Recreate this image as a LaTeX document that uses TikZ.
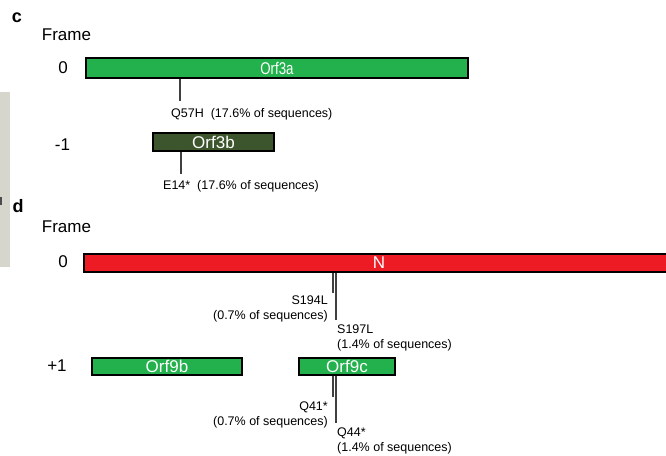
\documentclass[tikz,border=0pt]{standalone}
\usepackage{fontspec}
\setmainfont{Liberation Sans}
\usepackage{xcolor}
\usepackage{tikz}
\usetikzlibrary{calc}

\begin{document}
\begin{tikzpicture}[x=1pt,y=-1pt,
    gene/.style={draw=black, line width=1.8pt, rectangle, inner sep=0pt, text=white, font=\fontsize{17}{17}\selectfont},
    framelbl/.style={font=\fontsize{17}{17}\selectfont},
    panel/.style={font=\bfseries\fontsize{18}{18}\selectfont},
    tick/.style={draw=black!75, line width=1.1pt},
    mut/.style={font=\fontsize{12.5}{15}\selectfont, inner sep=0pt}]
    % Define colors
    \definecolor{orfgreen}{RGB}{34,177,76}
    \definecolor{orfdark}{RGB}{60,85,45}
    \definecolor{nred}{RGB}{237,28,36}
    \definecolor{strip}{RGB}{214,214,205}

    \useasboundingbox (0,0) rectangle (666,455);

    % Cut edge of the neighbouring panel
    \fill[strip] (0,92) rectangle (10,267);
    \fill[black!70] (0,197) rectangle (2,205);

    % Panel c
    \node[panel] (c) at (17,18) {c};
    \node[framelbl] (framec) at (66.5,35) {Frame};
    \node[framelbl] (f0c) at (63,68) {0};
    \node[framelbl] (fm1) at (62.5,145) {-1};
    \node[gene, fill=orfgreen, minimum width=382, minimum height=20] (orf3a) at (277,68) {\scalebox{0.78}[1]{Orf3a}};
    \node[gene, fill=orfdark, minimum width=121, minimum height=18] (orf3b) at (213.5,142) {Orf3b};
    % Q57H
    \coordinate (q57h) at (180,101);
    \draw[tick] (orf3a.south -| q57h) -- (q57h);
    \node[mut, anchor=base west] (q57hlbl) at (171,117) {Q57H\ \ (17.6\% of sequences)};
    % E14*
    \coordinate (e14) at (181,174);
    \draw[tick] (orf3b.south -| e14) -- (e14);
    \node[mut, anchor=base west] (e14lbl) at (163,189) {E14*\ \ (17.6\% of sequences)};

    % Panel d
    \node[panel] (d) at (18,206) {d};
    \node[framelbl] (framed) at (66.5,227) {Frame};
    \node[framelbl] (f0d) at (63,262) {0};
    \node[framelbl] (fp1) at (57,366) {+1};
    \node[gene, fill=nred, minimum width=590, minimum height=18] (nbox) at (379,263) {N};
    \node[gene, fill=orfgreen, minimum width=150, minimum height=17] (orf9b) at (167,366.5) {Orf9b};
    \node[gene, fill=orfgreen, minimum width=96, minimum height=17] (orf9c) at (347,366.5) {Orf9c};
    % S194L / S197L
    \coordinate (s194l) at (333,293);
    \coordinate (s197l) at (336,320);
    \draw[tick] (nbox.south -| s194l) -- (s194l);
    \draw[tick] (nbox.south -| s197l) -- (s197l);
    \node[mut, anchor=north east, align=right] (s194llbl) at (328,296) {S194L\\(0.7\% of sequences)};
    \node[mut, anchor=north west, align=left] (s197llbl) at (337,325) {S197L\\(1.4\% of sequences)};
    % Q41* / Q44*
    \coordinate (q41) at (333,397);
    \coordinate (q44) at (336,423);
    \draw[tick] (orf9c.south -| q41) -- (q41);
    \draw[tick] (orf9c.south -| q44) -- (q44);
    \node[mut, anchor=north east, align=right] (q41lbl) at (328,402) {Q41*\\(0.7\% of sequences)};
    \node[mut, anchor=north west, align=left] (q44lbl) at (337,428) {Q44*\\(1.4\% of sequences)};
\end{tikzpicture}
\end{document}
